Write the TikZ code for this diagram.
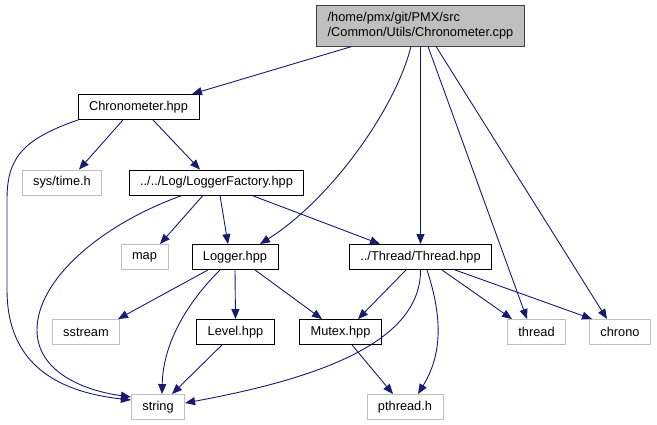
\documentclass[tikz,border=0pt]{standalone}
\usepackage{fontspec}
\setmainfont{Liberation Sans}
\usetikzlibrary{arrows.meta}
\definecolor{edgec}{HTML}{191970}
\definecolor{extc}{HTML}{BFBFBF}
\definecolor{rootc}{HTML}{BFBFBF}

\begin{document}
\begin{tikzpicture}[x=1pt,y=-1pt,
    file/.style={draw=black, line width=0.9pt, minimum height=25pt, inner xsep=11pt, inner ysep=0pt, font=\fontsize{12.8}{15}\selectfont},
    extfile/.style={file, draw=extc},
    dep/.style={edgec, line width=0.9pt, -{Triangle[length=10pt,width=8pt]}}]
  \useasboundingbox (0,0) rectangle (657,425);
  \node[file, fill=rootc, draw=black!75, align=left, minimum height=41pt] (root) at (420.5,25.5)
    {/home/pmx/git/PMX/src\\/Common/Utils/Chronometer.cpp};
  \node[file] (chron) at (138.5,107) {Chronometer.hpp};
  \node[extfile] (systime) at (62,182.5) {sys/time.h};
  \node[file] (logfact) at (216.5,182.5) {../../Log/LoggerFactory.hpp};
  \node[extfile] (map) at (144.5,257) {map};
  \node[file] (logger) at (235,257) {Logger.hpp};
  \node[file] (threadhpp) at (420.5,257) {../Thread/Thread.hpp};
  \node[extfile] (sstream) at (86,332) {sstream};
  \node[file] (level) at (235.5,332) {Level.hpp};
  \node[file] (mutex) at (340.5,332) {Mutex.hpp};
  \node[extfile] (thread) at (536.5,332) {thread};
  \node[extfile] (chrono) at (620,332) {chrono};
  \node[extfile] (string) at (158,407) {string};
  \node[extfile] (pthread) at (405,407) {pthread.h};
  % Chronometer.cpp
  \draw[dep] ([xshift=-68.5pt]root.south) -- ([xshift=53.5pt]chron.north);
  \draw[dep] ([xshift=-9.5pt]root.south) .. controls (395,110) and (330,200) .. ([xshift=25pt]logger.north);
  \draw[dep] (root.south) -- (threadhpp.north);
  \draw[dep] ([xshift=7.5pt]root.south) -- ([xshift=-9.5pt]thread.north);
  \draw[dep] ([xshift=15.5pt]root.south) -- ([xshift=-13pt]chrono.north);
  % Chronometer.hpp
  \draw[dep] ([xshift=-60.5pt]chron.south) .. controls (20,140) and (7,160) .. (7,200)
    -- (7,290) .. controls (7,350) and (40,390) .. ([yshift=7pt]string.west);
  \draw[dep] ([xshift=-15.5pt]chron.south) -- ([xshift=17pt]systime.north);
  \draw[dep] ([xshift=14.5pt]chron.south) -- ([xshift=-16.5pt]logfact.north);
  % LoggerFactory.hpp
  \draw[dep] ([xshift=-13.5pt]logfact.south) -- ([xshift=15.5pt]map.north);
  \draw[dep] ([xshift=3.5pt]logfact.south) -- ([xshift=-7pt]logger.north);
  \draw[dep] ([xshift=35.5pt]logfact.south) -- ([xshift=-40.5pt]threadhpp.north);
  \draw[dep] ([xshift=-34.5pt]logfact.south) .. controls (100,225) and (37,280) .. (37,330)
    .. controls (37,370) and (80,390) .. ([yshift=10pt]string.west);
  % Logger.hpp
  \draw[dep] ([xshift=-27pt]logger.south) -- ([xshift=32pt]sstream.north);
  \draw[dep] ([xshift=-15pt]logger.south) .. controls (185,305) and (163,345) .. ([xshift=4pt]string.north);
  \draw[dep] (logger.south) -- (level.north);
  \draw[dep] ([xshift=20pt]logger.south) -- ([xshift=-18.5pt]mutex.north);
  \draw[dep] ([xshift=-13.5pt]level.south) -- ([xshift=14pt]string.north);
  % Thread.hpp
  \draw[dep] ([xshift=-14.5pt]threadhpp.south) -- ([xshift=17.5pt]mutex.north);
  \draw[dep] (threadhpp.south) .. controls (421,345) and (310,380) .. ([yshift=4pt]string.east);
  \draw[dep] ([xshift=6.5pt]threadhpp.south) .. controls (440,310) and (445,350) .. ([xshift=13pt]pthread.north);
  \draw[dep] ([xshift=21.5pt]threadhpp.south) -- ([xshift=-24.5pt]thread.north);
  \draw[dep] ([xshift=34.5pt]threadhpp.south) -- ([xshift=-28pt]chrono.north);
  \draw[dep] ([xshift=11.5pt]mutex.south) -- ([xshift=-12pt]pthread.north);
\end{tikzpicture}
\end{document}
